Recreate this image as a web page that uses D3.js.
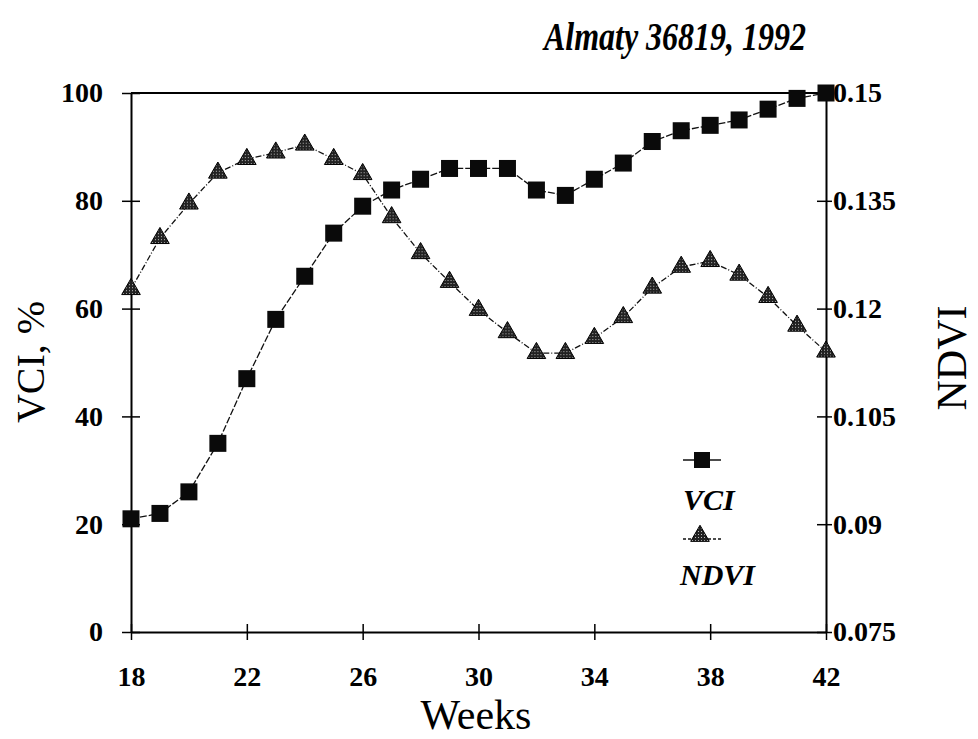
<!DOCTYPE html>
<html><head><meta charset="utf-8">
<script src="https://cdn.jsdelivr.net/npm/d3@7"></script>
<style>body{margin:0;background:#fff}</style>
</head><body>
<svg id="c" width="978" height="739"></svg>
<script>
const weeks = [18,19,20,21,22,23,24,25,26,27,28,29,30,31,32,33,34,35,36,37,38,39,40,41,42];
const vci = [21,22,26,35,47,58,66,74,79,82,84,86,86,86,82,81,84,87,91,93,94,95,97,99,100];
const ndvi = [0.1227,0.1298,0.1346,0.1389,0.1408,0.1417,0.1428,0.1408,0.1387,0.1327,0.1277,0.1237,0.1198,0.1167,0.1138,0.1138,0.1159,0.1188,0.1229,0.1258,0.1266,0.1247,0.1216,0.1176,0.114];
const xTicks = [18,22,26,30,34,38,42];
const vciTicks = [0,20,40,60,80,100];
const ndviTicks = [0.075,0.09,0.105,0.12,0.135,0.15];

const svg = d3.select("#c");
const L=131,R=826,T=93,B=632;
const x = d3.scaleLinear().domain([18,42]).range([L,R]);
const yL = d3.scaleLinear().domain([0,100]).range([B,T]);
const yR = d3.scaleLinear().domain([0.075,0.15]).range([B,T]);
const serif = "'Liberation Serif','Times New Roman',serif";

// pattern for triangles
const defs = svg.append("defs");
const pat = defs.append("pattern").attr("id","dots").attr("width",3).attr("height",3).attr("patternUnits","userSpaceOnUse");
pat.append("rect").attr("width",3).attr("height",3).attr("fill","#222");
pat.append("rect").attr("x",1).attr("y",1).attr("width",1).attr("height",1).attr("fill","#bbb");

// frame top
svg.append("line").attr("x1",L).attr("x2",R).attr("y1",T).attr("y2",T).attr("stroke","#000").attr("stroke-width",2);

// axes
const gx = svg.append("g").attr("transform",`translate(0,${B})`)
  .call(d3.axisBottom(x).tickValues(xTicks).tickSize(8).tickPadding(26).tickSizeOuter(0));
const gl = svg.append("g").attr("transform",`translate(${L},0)`)
  .call(d3.axisLeft(yL).tickValues(vciTicks).tickSize(9).tickPadding(19).tickSizeOuter(0));
const gr = svg.append("g").attr("transform",`translate(${R},0)`)
  .call(d3.axisRight(yR).tickValues(ndviTicks).tickFormat(d=>d3.format("")(+d.toFixed(3))).tickSize(6).tickPadding(1).tickSizeOuter(0));
[gx,gl,gr].forEach(g=>{
  g.select(".domain").attr("stroke","#000").attr("stroke-width",2);
  g.selectAll(".tick text").attr("font-family",serif).attr("font-weight","bold").attr("font-size",28).attr("fill","#000");
  g.selectAll(".tick line").attr("stroke","#000").attr("stroke-width",1.5);
});
// ticks crossing both sides
gx.selectAll(".tick line").attr("y1",-8).attr("y2",8);
gl.selectAll(".tick line").attr("x1",-9).attr("x2",9);
gr.selectAll(".tick line").attr("x1",-9).attr("x2",6);
gx.selectAll(".tick text").attr("dy","0.71em");

// lines
const lineV = d3.line().x((d,i)=>x(weeks[i])).y(d=>yL(d));
const lineN = d3.line().x((d,i)=>x(weeks[i])).y(d=>yR(d));
svg.append("path").attr("d",lineV(vci)).attr("fill","none").attr("stroke","#111").attr("stroke-width",1.3).attr("stroke-dasharray","7,2");
svg.append("path").attr("d",lineN(ndvi)).attr("fill","none").attr("stroke","#111").attr("stroke-width",1.3).attr("stroke-dasharray","6,2,1,2");

// markers
const sq=17;
svg.append("g").selectAll("rect").data(vci).join("rect")
  .attr("x",(d,i)=>x(weeks[i])-sq/2).attr("y",d=>yL(d)-sq/2).attr("width",sq).attr("height",sq)
  .attr("fill","#0a0a0a");
const tri = d3.symbol().type(d3.symbolTriangle).size(150);
svg.append("g").selectAll("path").data(ndvi).join("path")
  .attr("d",tri).attr("transform",(d,i)=>`translate(${x(weeks[i])},${yR(d)})`)
  .attr("fill","url(#dots)").attr("stroke","#000").attr("stroke-width",1);

// legend
const lg = svg.append("g");
lg.append("line").attr("x1",683).attr("x2",721).attr("y1",460).attr("y2",460).attr("stroke","#111").attr("stroke-width",1.3);
lg.append("rect").attr("x",694).attr("y",452).attr("width",16).attr("height",16).attr("fill","#0a0a0a");
lg.append("text").attr("x",683).attr("y",510).text("VCI").attr("font-family",serif).attr("font-style","italic").attr("font-weight","bold").attr("font-size",30);
lg.append("line").attr("x1",683).attr("x2",721).attr("y1",539).attr("y2",539).attr("stroke","#111").attr("stroke-width",1.3).attr("stroke-dasharray","3,2");
lg.append("path").attr("d",tri).attr("transform","translate(700,536)").attr("fill","url(#dots)").attr("stroke","#000");
lg.append("text").attr("x",680).attr("y",585).text("NDVI").attr("font-family",serif).attr("font-style","italic").attr("font-weight","bold").attr("font-size",30);

// titles
svg.append("text").attr("transform","translate(675,50) scale(0.8,1)").attr("text-anchor","middle").text("Almaty 36819, 1992")
  .attr("font-family",serif).attr("font-style","italic").attr("font-weight","bold").attr("font-size",40);
svg.append("text").attr("x",476).attr("y",729).attr("text-anchor","middle").text("Weeks")
  .attr("font-family",serif).attr("font-size",42);
svg.append("text").attr("transform","translate(44,362) rotate(-90)").attr("text-anchor","middle").text("VCI, %")
  .attr("font-family",serif).attr("font-size",40);
svg.append("text").attr("transform","translate(966,358) rotate(-90)").attr("text-anchor","middle").text("NDVI")
  .attr("font-family",serif).attr("font-size",42);
</script>
</body></html>
